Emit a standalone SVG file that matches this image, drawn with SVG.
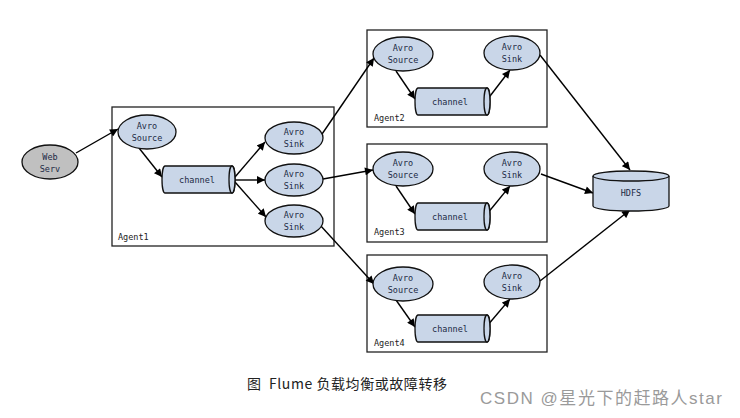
<svg xmlns="http://www.w3.org/2000/svg" width="740" height="418" viewBox="0 0 740 418">
<defs>
<marker id="ah" viewBox="0 0 10 10" refX="10" refY="5" markerWidth="9" markerHeight="8" markerUnits="userSpaceOnUse" orient="auto">
<path d="M0,0 L10,5 L0,10 Z" fill="#000"/>
</marker>
<style>
.box{fill:#fff;stroke:#222;stroke-width:1.3}
.node{fill:#c9d6e8;stroke:#111;stroke-width:1.3}
.web{fill:#c0c0c0;stroke:#111;stroke-width:1.3}
.t{font-family:"DejaVu Sans Mono","Liberation Mono",monospace;font-size:8.5px;fill:#1c2a44;text-anchor:middle}
.lbl{font-family:"DejaVu Sans Mono","Liberation Mono",monospace;font-size:8.5px;fill:#222}
.e{stroke:#000;stroke-width:1.4;fill:none;marker-end:url(#ah)}
</style>
</defs>
<rect width="740" height="418" fill="#fff"/>

<g id="agent1"><rect class="box" x="112" y="107" width="222" height="139"/><text class="lbl" x="118" y="240">Agent1</text></g>
<g id="agent2"><rect class="box" x="367" y="30" width="180" height="97"/><text class="lbl" x="374" y="121">Agent2</text></g>
<g id="agent3"><rect class="box" x="367" y="144" width="180" height="98"/><text class="lbl" x="374" y="235">Agent3</text></g>
<g id="agent4"><rect class="box" x="367" y="255" width="180" height="97"/><text class="lbl" x="374" y="346">Agent4</text></g>

<g id="connectors">
<line class="e" x1="76" y1="153" x2="118" y2="129"/>
<line class="e" x1="139" y1="148" x2="162" y2="177"/>
<line class="e" x1="235" y1="177" x2="265" y2="142"/>
<line class="e" x1="235" y1="180" x2="265" y2="180"/>
<line class="e" x1="235" y1="182" x2="266" y2="217"/>
<line class="e" x1="320" y1="137" x2="374" y2="58"/>
<line class="e" x1="323" y1="179" x2="373" y2="170"/>
<line class="e" x1="320" y1="225" x2="374" y2="284"/>
<line class="e" x1="396" y1="71" x2="415" y2="99"/>
<line class="e" x1="487" y1="100" x2="510" y2="70"/>
<line class="e" x1="396" y1="186" x2="415" y2="214"/>
<line class="e" x1="487" y1="214" x2="510" y2="186"/>
<line class="e" x1="396" y1="300" x2="415" y2="327"/>
<line class="e" x1="487" y1="326" x2="510" y2="299"/>
<line class="e" x1="540" y1="55" x2="630" y2="170"/>
<line class="e" x1="541" y1="174" x2="593" y2="193"/>
<line class="e" x1="540" y1="281" x2="630" y2="210"/>
</g>

<g id="webserv"><ellipse class="web" cx="50" cy="162" rx="28" ry="17"/><text class="t" x="50" y="160">Web</text><text class="t" x="50" y="172">Serv</text></g>

<g id="a1-source"><ellipse class="node" cx="147" cy="132" rx="29" ry="17"/><text class="t" x="147" y="129">Avro</text><text class="t" x="147" y="141">Source</text></g>
<g id="a1-channel"><path class="node" d="M165,166 H232 A3,13.5 0 0 1 232,193 H165 A3,13.5 0 0 1 165,166 Z"/><ellipse class="node" cx="232" cy="179.5" rx="3" ry="13.5"/><text class="t" x="197" y="182.5">channel</text></g>
<g id="a1-sink1"><ellipse class="node" cx="294" cy="138" rx="29" ry="16"/><text class="t" x="294" y="135">Avro</text><text class="t" x="294" y="147">Sink</text></g>
<g id="a1-sink2"><ellipse class="node" cx="294" cy="180" rx="29" ry="16"/><text class="t" x="294" y="177">Avro</text><text class="t" x="294" y="189">Sink</text></g>
<g id="a1-sink3"><ellipse class="node" cx="294" cy="221" rx="29" ry="16"/><text class="t" x="294" y="218">Avro</text><text class="t" x="294" y="230">Sink</text></g>

<g id="a2-source"><ellipse class="node" cx="403" cy="54" rx="30" ry="17"/><text class="t" x="403" y="51">Avro</text><text class="t" x="403" y="63">Source</text></g>
<g id="a2-channel"><path class="node" d="M418,88 H487 A3,13.5 0 0 1 487,115 H418 A3,13.5 0 0 1 418,88 Z"/><ellipse class="node" cx="487" cy="101.5" rx="3" ry="13.5"/><text class="t" x="450" y="104.5">channel</text></g>
<g id="a2-sink"><ellipse class="node" cx="512" cy="53" rx="28" ry="17"/><text class="t" x="512" y="50">Avro</text><text class="t" x="512" y="62">Sink</text></g>

<g id="a3-source"><ellipse class="node" cx="403" cy="169" rx="30" ry="17"/><text class="t" x="403" y="166">Avro</text><text class="t" x="403" y="178">Source</text></g>
<g id="a3-channel"><path class="node" d="M418,203 H487 A3,13.5 0 0 1 487,230 H418 A3,13.5 0 0 1 418,203 Z"/><ellipse class="node" cx="487" cy="216.5" rx="3" ry="13.5"/><text class="t" x="450" y="219.5">channel</text></g>
<g id="a3-sink"><ellipse class="node" cx="512" cy="169" rx="28" ry="17"/><text class="t" x="512" y="166">Avro</text><text class="t" x="512" y="178">Sink</text></g>

<g id="a4-source"><ellipse class="node" cx="403" cy="284" rx="30" ry="17"/><text class="t" x="403" y="281">Avro</text><text class="t" x="403" y="293">Source</text></g>
<g id="a4-channel"><path class="node" d="M418,315 H487 A3,13.5 0 0 1 487,342 H418 A3,13.5 0 0 1 418,315 Z"/><ellipse class="node" cx="487" cy="328.5" rx="3" ry="13.5"/><text class="t" x="450" y="331.5">channel</text></g>
<g id="a4-sink"><ellipse class="node" cx="512" cy="282" rx="28" ry="17"/><text class="t" x="512" y="279">Avro</text><text class="t" x="512" y="291">Sink</text></g>

<g id="hdfs"><path class="node" d="M593,176 A38,5 0 0 1 669,176 V206 A38,5 0 0 1 593,206 Z"/><path d="M593,176 A38,5 0 0 0 669,176" fill="none" stroke="#111" stroke-width="1.3"/><text class="t" x="631" y="196">HDFS</text></g>

<text x="247" y="389" font-family="'Noto Sans CJK SC','Noto Sans',sans-serif" font-size="14" fill="#222" textLength="200" lengthAdjust="spacing" xml:space="preserve">图  Flume 负载均衡或故障转移</text>
<text x="480" y="404" font-family="'Liberation Sans','Noto Sans CJK SC',sans-serif" font-size="17" fill="#9a9a9a" textLength="242" lengthAdjust="spacing">CSDN @星光下的赶路人star</text>
</svg>
